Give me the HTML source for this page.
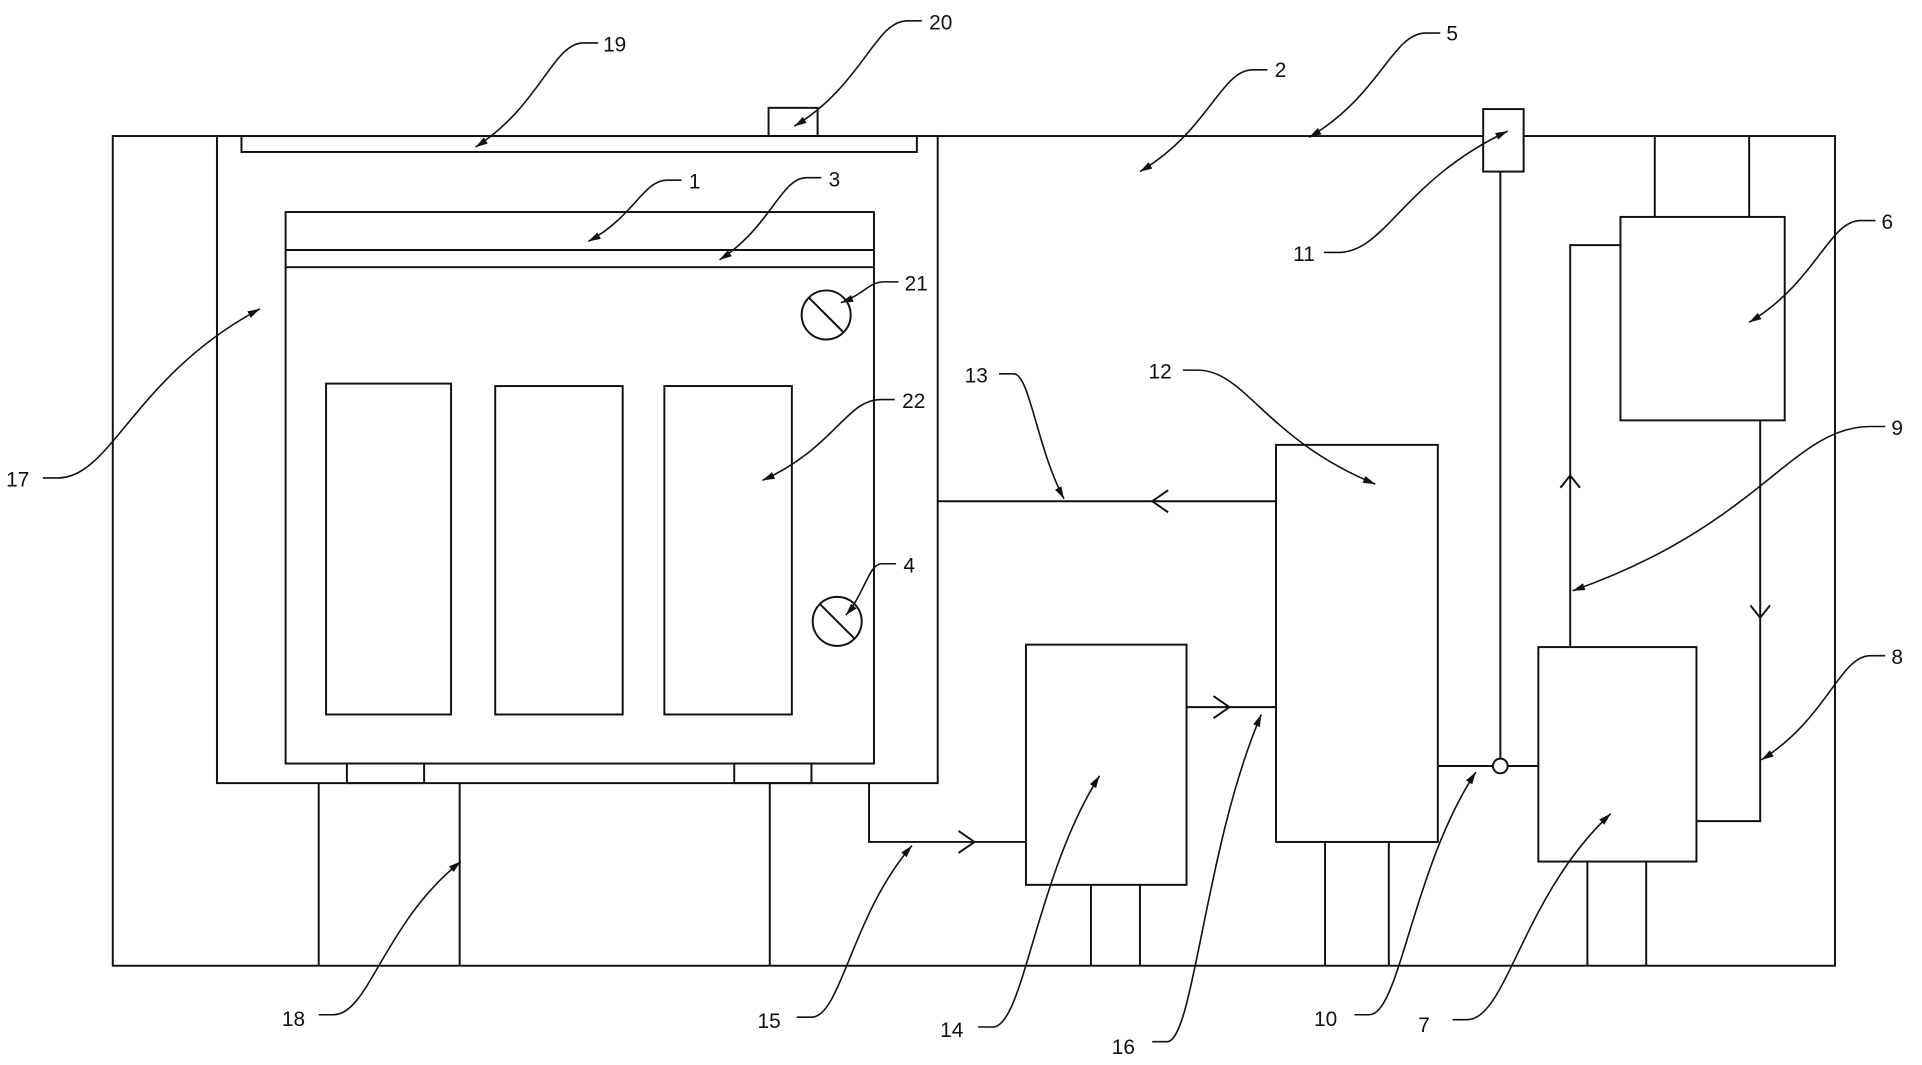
<!DOCTYPE html>
<html><head><meta charset="utf-8"><style>
html,body{margin:0;padding:0;background:#fff;}
svg{display:block;}
text{font-family:"Liberation Sans",sans-serif;font-size:17px;fill:#111;}
</style></head><body>
<svg width="1922" height="1065" viewBox="0 0 1568 869" preserveAspectRatio="none" xmlns="http://www.w3.org/2000/svg">
<defs><marker id="a" viewBox="0 0 10 6" refX="10" refY="3" markerWidth="10" markerHeight="6" markerUnits="userSpaceOnUse" orient="auto"><path d="M0 0 L10 3 L0 6 Z" fill="#111"/></marker></defs>
<g fill="none" stroke="#111" stroke-width="1.6">
<rect x="92" y="111" width="1405" height="677"/>
<rect x="177" y="111" width="588" height="528"/>
<rect x="197" y="111" width="551" height="13"/>
<rect x="627" y="88" width="40" height="23"/>
<rect x="233" y="173" width="480" height="450"/>
<line x1="233" y1="204" x2="713" y2="204"/>
<line x1="233" y1="218" x2="713" y2="218"/>
<circle cx="674" cy="257" r="20"/><line x1="660" y1="243" x2="688" y2="271"/>
<circle cx="683" cy="507" r="20"/><line x1="669" y1="493" x2="697" y2="521"/>
<rect x="266" y="313" width="102" height="270"/>
<rect x="404" y="315" width="104" height="268"/>
<rect x="542" y="315" width="104" height="268"/>
<rect x="283" y="623" width="63" height="16"/>
<rect x="599" y="623" width="63" height="16"/>
<line x1="260" y1="639" x2="260" y2="788"/>
<line x1="375" y1="639" x2="375" y2="788"/>
<line x1="628" y1="639" x2="628" y2="788"/>
<line x1="765" y1="409" x2="1041" y2="409"/>
<polyline points="953,400 940,409 953,418"/>
<rect x="1041" y="363" width="132" height="324"/>
<line x1="1081" y1="687" x2="1081" y2="788"/>
<line x1="1133" y1="687" x2="1133" y2="788"/>
<rect x="837" y="526" width="131" height="196"/>
<line x1="890" y1="722" x2="890" y2="788"/>
<line x1="930" y1="722" x2="930" y2="788"/>
<polyline points="709,639 709,687 837,687"/>
<polyline points="782,678 795,687 782,696"/>
<line x1="968" y1="577" x2="1041" y2="577"/>
<polyline points="990,568 1003,577 990,586"/>
<line x1="1173" y1="625" x2="1218" y2="625"/>
<line x1="1230" y1="625" x2="1255" y2="625"/>
<circle cx="1224" cy="625" r="6"/>
<line x1="1224" y1="140" x2="1224" y2="619"/>
<rect x="1210" y="89" width="33" height="51" fill="#fff"/>
<rect x="1255" y="528" width="129" height="175"/>
<line x1="1295" y1="703" x2="1295" y2="788"/>
<line x1="1343" y1="703" x2="1343" y2="788"/>
<rect x="1322" y="177" width="134" height="166"/>
<line x1="1350" y1="111" x2="1350" y2="177"/>
<line x1="1427" y1="111" x2="1427" y2="177"/>
<polyline points="1322,200 1281,200 1281,528"/>
<polyline points="1273,398 1281,388 1289,398"/>
<polyline points="1436,343 1436,670 1384,670"/>
<polyline points="1428,494 1436,504 1444,494"/>
</g>
<g fill="none" stroke="#111" stroke-width="1.3" marker-end="url(#a)">
<path d="M488 35 L476 35 C451 35 441 86 388 120"/>
<path d="M752 17 L740 17 C714 17 704 69 648 103"/>
<path d="M1175 27 L1163 27 C1136 27 1126 78 1068 112"/>
<path d="M1034 57 L1022 57 C996 57 986 107 930 140"/>
<path d="M556 147 L544 147 C525 147 517 177 480 197"/>
<path d="M670 145 L658 145 C637 145 629 185 587 212"/>
<path d="M733 230 L721 230 C709 230 705 240 686 247"/>
<path d="M730 326 L718 326 C691 326 680 366 622 392"/>
<path d="M35 390 L47 390 C91 390 109 307 212 252"/>
<path d="M815 305 L827 305 C840 305 846 366 868 407"/>
<path d="M965 302 L977 302 C1016 302 1032 358 1122 395"/>
<path d="M1080 206 L1092 206 C1130 206 1145 147 1230 107"/>
<path d="M1530 180 L1518 180 C1492 180 1482 230 1427 263"/>
<path d="M1538 348 L1526 348 C1462 348 1437 428 1283 482"/>
<path d="M731 460 L719 460 C709 460 705 485 690 502"/>
<path d="M1538 535 L1526 535 C1501 535 1491 586 1437 620"/>
<path d="M260 828 L272 828 C301 828 313 753 376 703"/>
<path d="M650 830 L662 830 C686 830 695 746 744 690"/>
<path d="M798 838 L810 838 C835 838 845 715 897 633"/>
<path d="M940 850 L952 850 C974 850 983 690 1029 583"/>
<path d="M1105 828 L1117 828 C1142 828 1152 709 1204 630"/>
<path d="M1185 832 L1197 832 C1229 832 1242 731 1314 664"/>
</g>
<text x="492" y="42">19</text>
<text x="758" y="24">20</text>
<text x="1180" y="33">5</text>
<text x="1040" y="63">2</text>
<text x="562" y="154">1</text>
<text x="676" y="152">3</text>
<text x="738" y="237">21</text>
<text x="736" y="333">22</text>
<text x="5" y="397">17</text>
<text x="787" y="312">13</text>
<text x="937" y="309">12</text>
<text x="1055" y="213">11</text>
<text x="1535" y="187">6</text>
<text x="1543" y="355">9</text>
<text x="737" y="467">4</text>
<text x="1543" y="542">8</text>
<text x="230" y="837">18</text>
<text x="618" y="839">15</text>
<text x="767" y="846">14</text>
<text x="907" y="860">16</text>
<text x="1072" y="837">10</text>
<text x="1157" y="842">7</text>
</svg>
</body></html>
